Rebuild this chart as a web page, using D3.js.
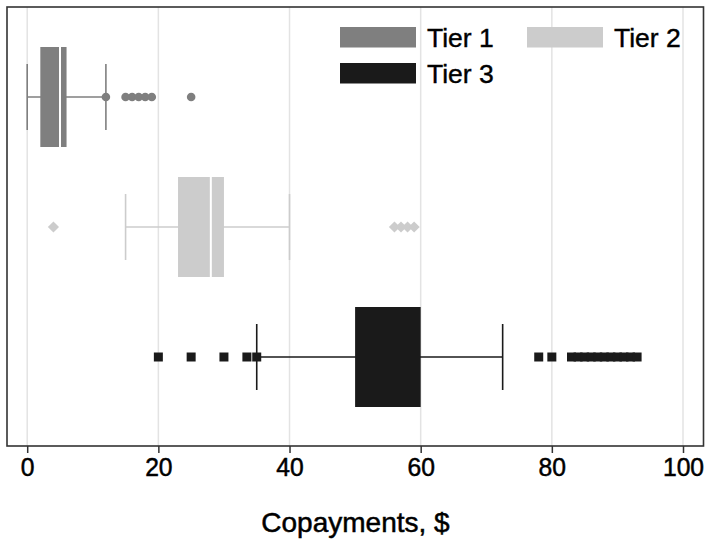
<!DOCTYPE html>
<html><head><meta charset="utf-8">
<script src="https://cdn.jsdelivr.net/npm/d3@7"></script>
<style>body{margin:0;background:#fff}svg{display:block}text{font-family:"Liberation Sans",Arial,sans-serif}</style>
</head><body><svg id="c" width="714" height="544"></svg>
<script>
const tiers = ["Tier 1", "Tier 2", "Tier 3"];
const colors = ["#7f7f7f", "#cccccc", "#1a1a1a"];
const shapes = ["circle", "diamond", "square"];
const whiskerLow = [0, 15, 35];
const q1 = [2, 23, 50];
const median = [5, 28, 60];
const q3 = [6, 30, 60];
const whiskerHigh = [12, 40, 72.5];
const outliers = [
  [12, 15, 16, 17, 18, 19, 25],
  [4, 56, 57, 58, 59],
  [20, 25, 30, 33.5, 35, 78, 80, 83, 84, 85, 86, 87, 88, 89, 90, 91, 92, 93]
];
const xTicks = [0, 20, 40, 60, 80, 100];
const xTitle = "Copayments, $";

const svg = d3.select("#c");
const L = 7, R = 703.5, T = 7, B = 446;
const x = d3.scaleLinear().domain([0, 100]).range([27.2, 683]);
const y = d3.scalePoint().domain(tiers).range([97, 357]);
const boxH = 100, capH = 66;

// gridlines
svg.append("g").selectAll("line").data(xTicks).join("line")
  .attr("x1", d => x(d)).attr("x2", d => x(d)).attr("y1", T).attr("y2", B)
  .attr("stroke", "#e3e3e3").attr("stroke-width", 1.5);

tiers.forEach((t, i) => {
  const g = svg.append("g");
  const cy = y(t), c = colors[i];
  g.append("line").attr("x1", x(whiskerLow[i])).attr("x2", x(whiskerHigh[i]))
    .attr("y1", cy).attr("y2", cy).attr("stroke", c).attr("stroke-width", 1.6);
  [whiskerLow[i], whiskerHigh[i]].forEach(v => {
    g.append("line").attr("x1", x(v)).attr("x2", x(v))
      .attr("y1", cy - capH / 2).attr("y2", cy + capH / 2).attr("stroke", c).attr("stroke-width", 1.6);
  });
  g.append("rect").attr("x", x(q1[i])).attr("width", x(median[i]) - x(q1[i]))
    .attr("y", cy - boxH / 2).attr("height", boxH).attr("fill", c);
  g.append("rect").attr("x", x(median[i])).attr("width", x(q3[i]) - x(median[i]))
    .attr("y", cy - boxH / 2).attr("height", boxH).attr("fill", c);
  if (median[i] < q3[i]) {
    g.append("line").attr("x1", x(median[i])).attr("x2", x(median[i]))
      .attr("y1", cy - boxH / 2).attr("y2", cy + boxH / 2).attr("stroke", "#fff").attr("stroke-width", 2);
  }
  const sym = shapes[i] === "circle" ? d3.symbolCircle : shapes[i] === "diamond" ? d3.symbolDiamond2 : d3.symbolSquare;
  const size = shapes[i] === "circle" ? 58 : shapes[i] === "diamond" ? 80 : 81;
  g.selectAll("path.o").data(outliers[i]).join("path").attr("class", "o")
    .attr("d", d3.symbol().type(sym).size(size))
    .attr("transform", d => `translate(${x(d)},${cy})`)
    .attr("fill", c);
});

svg.append("rect").attr("x", L).attr("y", T).attr("width", R - L).attr("height", B - T)
  .attr("fill", "none").attr("stroke", "#333").attr("stroke-width", 1.6);

const ax = svg.append("g").attr("transform", `translate(0,${B})`)
  .call(d3.axisBottom(x).tickValues(xTicks).tickSize(7).tickPadding(5).tickFormat(d3.format("d")));
ax.select(".domain").remove();
ax.selectAll(".tick line").attr("stroke", "#333").attr("stroke-width", 1.5);
ax.selectAll(".tick text").attr("font-size", 26).attr("fill", "#000")
  .attr("stroke", "#000").attr("stroke-width", 0.5)
  .style("font-family", "'Liberation Sans', Arial, sans-serif").attr("transform", "scale(0.95,1)");

svg.append("text").attr("x", 355.5).attr("y", 532).attr("text-anchor", "middle")
  .attr("font-size", 28).attr("fill", "#000").attr("stroke", "#000").attr("stroke-width", 0.5).text(xTitle);

const legPos = [[340, 27], [527, 27], [340, 63]];
tiers.forEach((t, i) => {
  const [lx, ly] = legPos[i];
  svg.append("rect").attr("x", lx).attr("y", ly).attr("width", 76).attr("height", 20.5).attr("fill", colors[i]);
  svg.append("text").attr("x", lx + 87).attr("y", ly + 20).attr("font-size", 26.5).attr("fill", "#000")
    .attr("stroke", "#000").attr("stroke-width", 0.4).text(t);
});
</script></body></html>
